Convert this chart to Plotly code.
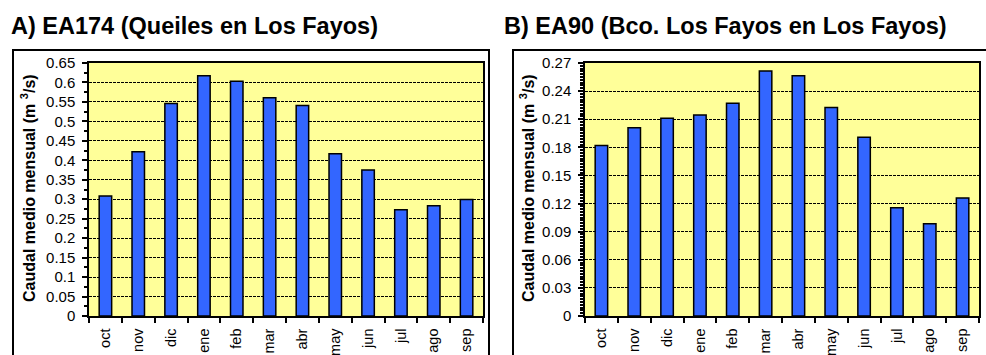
import plotly.graph_objects as go

months = ["oct", "nov", "dic", "ene", "feb", "mar", "abr", "may", "jun", "jul", "ago", "sep"]
caudal_ea174 = [0.308, 0.422, 0.546, 0.617, 0.603, 0.561, 0.541, 0.417, 0.375, 0.273, 0.283, 0.299]
caudal_ea90 = [0.182, 0.201, 0.211, 0.2145, 0.227, 0.2615, 0.2565, 0.2225, 0.1907, 0.1156, 0.0985, 0.126]
title_a = "A) EA174 (Queiles en Los Fayos)"
title_b = "B) EA90 (Bco. Los Fayos en Los Fayos)"
ytitle = "Caudal medio mensual (m <sup>3</sup>/s)"

W, H = 986, 355
FONT = "Arial, Liberation Sans, sans-serif"

def px(x):
    return x / W

def py(y):
    return 1 - y / H

fig = go.Figure()
fig.add_trace(go.Bar(x=months, y=caudal_ea174, xaxis="x", yaxis="y",
                     marker=dict(color="#3366FF", line=dict(color="black", width=1.5))))
fig.add_trace(go.Bar(x=months, y=caudal_ea90, xaxis="x2", yaxis="y2",
                     marker=dict(color="#3366FF", line=dict(color="black", width=1.5))))

common_x = dict(type="category", showline=True, linecolor="black", linewidth=1.5, mirror=True,
                ticks="outside", tickson="boundaries", ticklen=5, tickcolor="black", tickwidth=1.5,
                tickangle=-90, tickfont=dict(family=FONT, size=14.5, color="black"),
                showgrid=False, fixedrange=True, automargin=False, ticklabelstandoff=5)
common_y = dict(showline=True, linecolor="black", linewidth=1.5, mirror=True,
                ticks="outside", ticklen=5, tickcolor="black", tickwidth=1.5,
                tickfont=dict(family=FONT, size=15, color="black"),
                showgrid=True, gridcolor="black", gridwidth=1, griddash="3px,1px",
                zeroline=False, ticklabelstandoff=4, automargin=False)

yd = [py(316), py(63)]
fig.update_layout(
    width=W, height=H, margin=dict(l=0, r=0, t=0, b=0, autoexpand=False),
    paper_bgcolor="white", plot_bgcolor="#FFFF99",
    showlegend=False, bargap=0.62,
    font=dict(family=FONT, color="black"),
    xaxis=dict(domain=[px(89), px(483)], anchor="y", **common_x),
    yaxis=dict(domain=yd, anchor="x", range=[0, 0.65], dtick=0.05,
               minor=dict(dtick=0.025, ticks="outside", ticklen=3, tickcolor="black", showgrid=False),
               **common_y),
    xaxis2=dict(domain=[px(585), px(979)], anchor="y2", **common_x),
    yaxis2=dict(domain=yd, anchor="x2", range=[0, 0.27], dtick=0.03,
                minor=dict(dtick=0.003, ticks="outside", ticklen=3, tickcolor="black", showgrid=False),
                **common_y),
)

# chart frames
fig.add_shape(type="rect", xref="paper", yref="paper", x0=px(13), x1=px(489), y0=py(370), y1=py(50),
              line=dict(color="black", width=2), fillcolor="rgba(0,0,0,0)", layer="below")
fig.add_shape(type="rect", xref="paper", yref="paper", x0=px(513), x1=px(1000), y0=py(370), y1=py(50),
              line=dict(color="black", width=2), fillcolor="rgba(0,0,0,0)", layer="below")

# titles
for t, x in [(title_a, 9), (title_b, 502)]:
    fig.add_annotation(text="<b>%s</b>" % t, xref="paper", yref="paper", x=px(x), y=py(26),
                       xanchor="left", yanchor="middle", showarrow=False,
                       font=dict(family=FONT, size=23.5, color="black"))

# y axis titles
for x in [28, 527]:
    fig.add_annotation(text="<b>%s</b>" % ytitle, xref="paper", yref="paper", x=px(x), y=py(188),
                       xanchor="center", yanchor="middle", textangle=-90, showarrow=False,
                       font=dict(family=FONT, size=16, color="black"))

fig.write_html("out.html", config={"displayModeBar": False},
               post_script="document.body.style.margin='0px';")
